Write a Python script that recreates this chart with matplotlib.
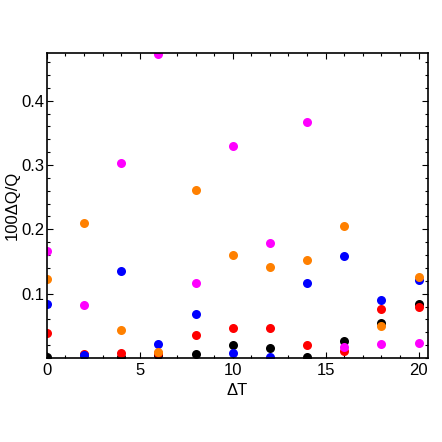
import matplotlib
matplotlib.use("Agg")
import matplotlib.pyplot as plt
from matplotlib.ticker import MultipleLocator, FixedLocator

plt.rcParams['font.family'] = ['Liberation Sans', 'DejaVu Sans']

# Delta T values (shared by all series)
dT = [0, 2, 4, 6, 8, 10, 12, 14, 16, 18, 20]

# 100 dQ/Q for each series
black = [0.001, 0.005, 0.002, 0.004, 0.006, 0.0198, 0.0157, 0.0023, 0.027, 0.0544, 0.0845]
red = [0.039, 0.006, 0.0074, 0.008, 0.0353, 0.0467, 0.0472, 0.0198, 0.011, 0.0767, 0.0792]
blue = [0.0845, 0.0043, 0.135, 0.0225, 0.069, 0.0085, 0.0023, 0.1165, 0.1583, 0.0907, 0.122]
orange = [0.123, 0.2095, 0.043, 0.0095, 0.261, 0.1604, 0.1408, 0.1516, 0.2048, 0.0493, 0.1258]
magenta = [0.1656, 0.0823, 0.303, 0.473, 0.1165, 0.330, 0.179, 0.367, 0.0172, 0.0225, 0.024]

series = [(black, 'black'), (red, '#FF0000'), (blue, '#0000FF'),
          (orange, '#FF8000'), (magenta, '#FF00FF')]

fig = plt.figure(figsize=(4.42, 4.42), dpi=100)
ax = fig.add_axes([0.106, 0.190, 0.862, 0.690])

for vals, col in series:
    ax.plot(dT, vals, 'o', color=col, markersize=6.5, markeredgewidth=0)

ax.set_xlim(0, 20.5)
ax.set_ylim(0, 0.474)

ax.xaxis.set_major_locator(MultipleLocator(5))
ax.xaxis.set_minor_locator(MultipleLocator(1))
ax.yaxis.set_major_locator(FixedLocator([0.1, 0.2, 0.3, 0.4]))
ax.yaxis.set_minor_locator(MultipleLocator(0.02))

ax.tick_params(which='both', direction='in', top=True, right=True,
               labelsize=12, width=0.8)
ax.tick_params(which='major', length=4)
ax.tick_params(which='minor', length=2)
ax.tick_params(axis='y', pad=2)
for s in ax.spines.values():
    s.set_linewidth(1.2)

ax.set_xlabel('ΔT', fontsize=12)
ax.set_ylabel('100ΔQ/Q', fontsize=12, labelpad=1)

fig.savefig('out.png', dpi=100)
